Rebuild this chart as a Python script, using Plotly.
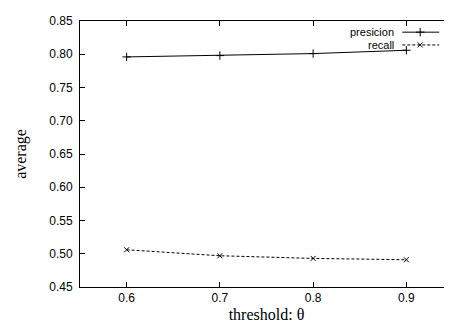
import plotly.graph_objects as go

thresholds = [0.6, 0.7, 0.8, 0.9]
precision = [0.796, 0.798, 0.801, 0.806]
recall = [0.506, 0.497, 0.493, 0.491]
series_names = ["presicion", "recall"]

fig = go.Figure()
fig.add_trace(go.Scatter(x=thresholds, y=precision, mode="lines+markers", name=series_names[0],
                         line=dict(color="black", width=1),
                         marker=dict(symbol="cross-thin", size=6, line=dict(color="black", width=1)),
                         showlegend=False))
fig.add_trace(go.Scatter(x=thresholds, y=recall, mode="lines+markers", name=series_names[1],
                         line=dict(color="black", width=1, dash="3px,2px"),
                         marker=dict(symbol="x-thin", size=5, line=dict(color="black", width=1)),
                         showlegend=False))

# custom gnuplot-style legend on an overlay axis spanning [0,1]
leg_y = [0.958, 0.910]
fig.add_trace(go.Scatter(x=[0.864, 0.963], y=[leg_y[0]] * 2, mode="lines", xaxis="x2", yaxis="y2",
                         line=dict(color="black", width=1), showlegend=False, hoverinfo="skip"))
fig.add_trace(go.Scatter(x=[0.912], y=[leg_y[0]], mode="markers", xaxis="x2", yaxis="y2",
                         marker=dict(symbol="cross-thin", size=6, line=dict(color="black", width=1)),
                         showlegend=False, hoverinfo="skip"))
fig.add_trace(go.Scatter(x=[0.864, 0.963], y=[leg_y[1]] * 2, mode="lines", xaxis="x2", yaxis="y2",
                         line=dict(color="black", width=1, dash="3px,2px"), showlegend=False, hoverinfo="skip"))
fig.add_trace(go.Scatter(x=[0.912], y=[leg_y[1]], mode="markers", xaxis="x2", yaxis="y2",
                         marker=dict(symbol="x-thin", size=5, line=dict(color="black", width=1)),
                         showlegend=False, hoverinfo="skip"))
for name, yy in zip(series_names, leg_y):
    fig.add_annotation(x=0.845, y=yy, xref="paper", yref="paper", text=name, showarrow=False,
                       xanchor="right", yanchor="middle", borderpad=0,
                       font=dict(family="Liberation Sans, Arial", size=11, color="black"))

axis_common = dict(showgrid=False, zeroline=False, showline=True, linecolor="black", linewidth=1,
                   mirror="ticks", ticks="inside", ticklen=5, tickcolor="black", tickwidth=1,
                   tickfont=dict(family="Liberation Sans, Arial", size=12, color="black"))

fig.update_layout(
    width=452, height=324,
    margin=dict(l=72, r=6, t=9, b=45),
    paper_bgcolor="white", plot_bgcolor="white",
    xaxis=dict(range=[0.55, 0.95], dtick=0.1, tick0=0.6, tickformat=".1f",
               title=dict(text="threshold: θ", standoff=4,
                          font=dict(family="Liberation Serif, Times New Roman", size=16, color="black")),
               **axis_common),
    yaxis=dict(range=[0.45, 0.85], dtick=0.05, tick0=0.45, tickformat=".2f", ticklabelstandoff=4,
               title=dict(text="average", standoff=18,
                          font=dict(family="Liberation Serif, Times New Roman", size=16, color="black")),
               **axis_common),
    xaxis2=dict(range=[0, 1], overlaying="x", visible=False, fixedrange=True),
    yaxis2=dict(range=[0, 1], overlaying="y", visible=False, fixedrange=True),
    showlegend=False,
)

fig.write_html("out.html")
